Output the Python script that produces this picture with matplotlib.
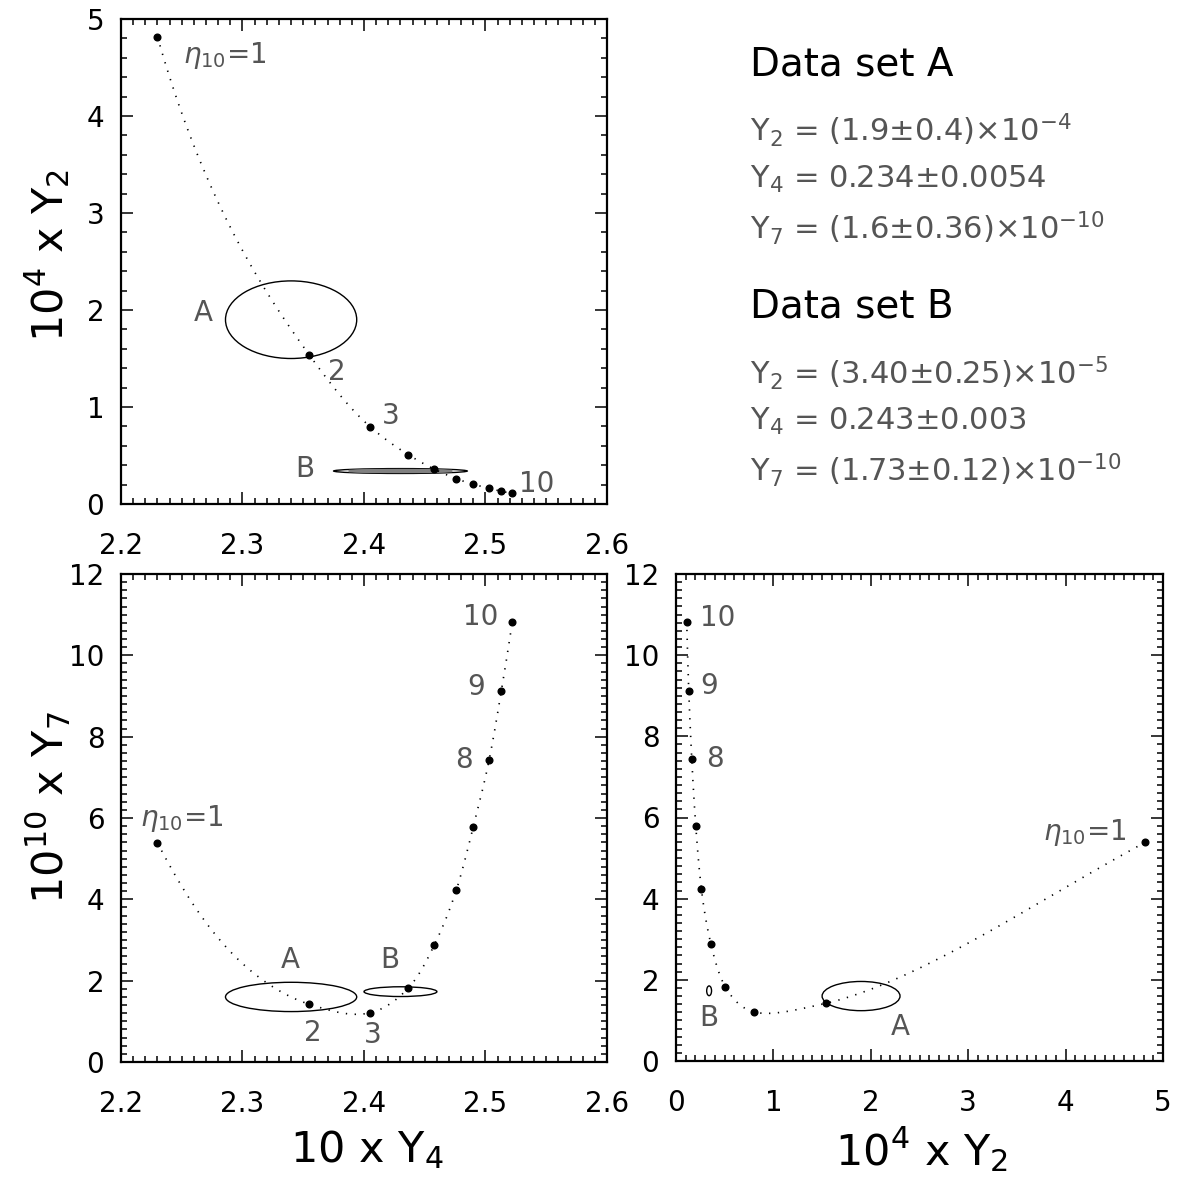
import numpy as np
import matplotlib
matplotlib.use("Agg")
import matplotlib.pyplot as plt
from matplotlib.patches import Ellipse
from matplotlib.ticker import MultipleLocator

plt.rcParams['font.family'] = ['DejaVu Sans']
plt.rcParams['mathtext.fontset'] = 'dejavusans'

# model curve, eta10 = 1..10
eta = np.arange(1, 11)
y4x10 = [2.230, 2.355, 2.405, 2.4365, 2.458, 2.476, 2.490, 2.503, 2.513, 2.522]
y2x1e4 = [4.817, 1.536, 0.797, 0.508, 0.358, 0.261, 0.203, 0.162, 0.131, 0.110]
y7x1e10 = [5.39, 1.42, 1.21, 1.82, 2.885, 4.23, 5.79, 7.43, 9.12, 10.82]

# data sets (central value, error) in plot units
set_names = ['A', 'B']
set_y2 = [(1.9, 0.4), (0.34, 0.025)]
set_y4 = [(2.34, 0.054), (2.43, 0.03)]
set_y7 = [(1.6, 0.36), (1.73, 0.12)]

text_a = [r'Y$_2$ = (1.9$\pm$0.4)$\times$10$^{-4}$',
          r'Y$_4$ = 0.234$\pm$0.0054',
          r'Y$_7$ = (1.6$\pm$0.36)$\times$10$^{-10}$']
text_b = [r'Y$_2$ = (3.40$\pm$0.25)$\times$10$^{-5}$',
          r'Y$_4$ = 0.243$\pm$0.003',
          r'Y$_7$ = (1.73$\pm$0.12)$\times$10$^{-10}$']

W, H = 1177, 1186
GREY = '#555555'
ETA = r'$\eta_{10}$=1'


def hermite(u, v, n=40):
    # smooth curve through the points (cubic hermite)
    u = np.asarray(u, float)
    v = np.asarray(v, float)
    m = np.gradient(v, u)
    out = []
    t = np.linspace(0, 1, n, endpoint=False)
    for i in range(len(u) - 1):
        h = u[i + 1] - u[i]
        out.append((2*t**3 - 3*t**2 + 1) * v[i] + (t**3 - 2*t**2 + t) * h * m[i]
                   + (-2*t**3 + 3*t**2) * v[i + 1] + (t**3 - t**2) * h * m[i + 1])
    out.append([v[-1]])
    return np.concatenate(out)


u = np.log(eta)
c_y4 = hermite(u, y4x10)
c_y2 = np.exp(hermite(u, np.log(y2x1e4)))
c_y7 = np.exp(hermite(u, np.log(y7x1e10)))


def px(x0, y0, x1, y1):
    return [x0 / W, 1 - y1 / H, (x1 - x0) / W, (y1 - y0) / H]


def style(ax, xmaj, xmin, ymaj, ymin):
    ax.xaxis.set_major_locator(MultipleLocator(xmaj))
    ax.xaxis.set_minor_locator(MultipleLocator(xmin))
    ax.yaxis.set_major_locator(MultipleLocator(ymaj))
    ax.yaxis.set_minor_locator(MultipleLocator(ymin))
    ax.tick_params(which='both', direction='in', top=True, right=True, width=1.1)
    ax.tick_params(which='major', length=8.5, labelsize=20)
    ax.tick_params(which='minor', length=4.3)
    ax.tick_params(axis='x', pad=20)
    ax.tick_params(axis='y', pad=12)
    for s in ax.spines.values():
        s.set_linewidth(1.6)


def curve(ax, xs, ys, cx, cy):
    ax.plot(cx, cy, color='black', lw=1.2, linestyle=(0, (0.8, 4.5)))
    ax.plot(xs, ys, 'o', color='black', ms=4.8)


def ell(ax, x, y, lw=1.0):
    ax.add_patch(Ellipse((x[0], y[0]), 2 * x[1], 2 * y[1], fill=False,
                         edgecolor='black', lw=lw))


def lab(ax, x, y, s, size=20, ha='center'):
    ax.text(x, y, s, fontsize=size, color=GREY, ha=ha, va='center')


fig = plt.figure(figsize=(W / 100, H / 100), dpi=100)

# top left: Y2 vs Y4
ax1 = fig.add_axes(px(121, 19, 607, 504))
curve(ax1, y4x10, y2x1e4, c_y4, c_y2)
ell(ax1, set_y4[0], set_y2[0])
ax1.add_patch(Ellipse((set_y4[1][0], set_y2[1][0]), 0.11, 2 * set_y2[1][1],
                      facecolor='white', edgecolor='black', lw=1.0, zorder=1))
ax1.add_patch(Ellipse((set_y4[1][0], set_y2[1][0]), 0.085, 0.022,
                      fill=False, edgecolor='0.5', lw=1.6, zorder=1))
ax1.set_xlim(2.2, 2.6)
ax1.set_ylim(0, 5)
style(ax1, 0.1, 0.01, 1, 0.2)
ax1.set_xticks([2.2, 2.3, 2.4, 2.5, 2.6])
ax1.set_xticklabels(['2.2', '2.3', '2.4', '2.5', '2.6'])
lab(ax1, 2.251, 4.62, ETA, ha='left')
lab(ax1, 2.2675, 1.97, 'A')
lab(ax1, 2.378, 1.36, '2')
lab(ax1, 2.422, 0.91, '3')
lab(ax1, 2.351, 0.36, 'B')
lab(ax1, 2.542, 0.21, '10')

# bottom left: Y7 vs Y4
ax2 = fig.add_axes(px(121, 574, 607, 1062))
curve(ax2, y4x10, y7x1e10, c_y4, c_y7)
ell(ax2, set_y4[0], set_y7[0])
ell(ax2, set_y4[1], set_y7[1])
ax2.set_xlim(2.2, 2.6)
ax2.set_ylim(0, 12)
style(ax2, 0.1, 0.01, 2, 0.2)
ax2.set_xticks([2.2, 2.3, 2.4, 2.5, 2.6])
ax2.set_xticklabels(['2.2', '2.3', '2.4', '2.5', '2.6'])
lab(ax2, 2.2153, 5.98, ETA, ha='left')
lab(ax2, 2.339, 2.51, 'A')
lab(ax2, 2.421, 2.51, 'B')
lab(ax2, 2.3575, 0.71, '2')
lab(ax2, 2.4075, 0.66, '3')
lab(ax2, 2.4958, 10.94, '10')
lab(ax2, 2.4925, 9.22, '9')
lab(ax2, 2.4825, 7.43, '8')

# bottom right: Y7 vs Y2
ax3 = fig.add_axes(px(676, 574, 1163, 1061))
curve(ax3, y2x1e4, y7x1e10, c_y2, c_y7)
ell(ax3, set_y2[0], set_y7[0])
ell(ax3, set_y2[1], set_y7[1])
ax3.set_xlim(0, 5)
ax3.set_ylim(0, 12)
style(ax3, 1, 0.1, 2, 0.2)
lab(ax3, 0.245, 10.91, '10', ha='left')
lab(ax3, 0.343, 9.23, '9')
lab(ax3, 0.40, 7.43, '8')
lab(ax3, 4.62, 5.64, ETA, ha='right')
lab(ax3, 0.336, 1.05, 'B')
lab(ax3, 2.307, 0.83, 'A')

# axis titles
fig.text(48 / W, 1 - 255 / H, r'10$^4$ x Y$_2$', rotation=90, fontsize=31,
         ha='center', va='center')
fig.text(48 / W, 1 - 808 / H, r'10$^{10}$ x Y$_7$', rotation=90, fontsize=31,
         ha='center', va='center')
fig.text(367 / W, 1 - 1150 / H, r'10 x Y$_4$', fontsize=31, ha='center', va='center')
fig.text(922 / W, 1 - 1150 / H, r'10$^4$ x Y$_2$', fontsize=31, ha='center', va='center')

# data set summary
fig.text(750 / W, 1 - 64 / H, 'Data set A', fontsize=28, va='center')
for s, yy in zip(text_a, [130, 179, 228]):
    fig.text(750 / W, 1 - yy / H, s, fontsize=22, va='center', color=GREY)
fig.text(750 / W, 1 - 306 / H, 'Data set B', fontsize=28, va='center')
for s, yy in zip(text_b, [373, 421, 470]):
    fig.text(750 / W, 1 - yy / H, s, fontsize=22, va='center', color=GREY)

fig.savefig('out.png', dpi=100)
